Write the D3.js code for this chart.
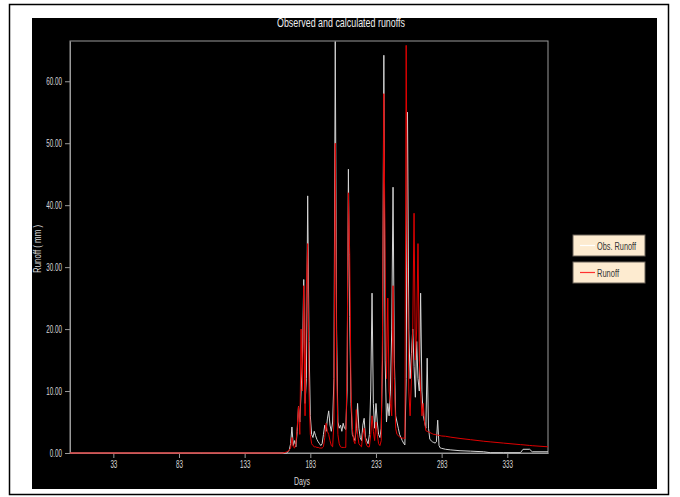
<!DOCTYPE html>
<html>
<head>
<style>
    body { margin: 0; background: #fff; }
    text { font-family: "Liberation Sans", Arial, sans-serif; }
    .axis path, .axis line { stroke: #9a9a9a; }
    .axis text { fill: #d8d8d8; font-size: 10.5px; transform-box: fill-box; transform: scaleX(0.6); }
    .y-axis text { transform-origin: right center; }
    .x-axis text { transform-origin: center center; }
</style>
</head>
<body>
<svg id="chart" width="680" height="497"></svg>
<script src="https://d3js.org/d3.v7.min.js"></script>
<script>
    // sample days: flat start, daily block 165..283, sparse recession tail
    const days = [0, 100, 160, 162, 164].concat(d3.range(165, 284),
        [286, 290, 297, 305, 315, 320, 330, 343, 345, 350, 352, 364]);

    const obsRunoff = [0, 0, 0, 0, 0,
        0, 0.2, 0.5, 1.5, 4.2, 1.2, 2.0, 1.0, 3.5, 7.5,
        5, 10, 15, 28, 8, 12, 41.5, 18, 6, 3,
        2.5, 3.5, 2.8, 2.2, 1.8, 1.5, 1.2, 1.5, 3.0, 4.5,
        3.5, 5.5, 6.8, 4.5, 3.5, 5, 12, 66.4, 20, 5,
        4, 4.5, 3.5, 4.8, 4, 3.8, 10, 45.8, 22, 8,
        3, 2.5, 2, 4, 8, 4, 2.5, 2, 4.5, 5.6,
        2.5, 2, 1.5, 3, 10, 25.8, 8, 4, 8, 5,
        3, 2.5, 4, 15, 64.2, 15, 5, 8, 6, 10,
        20, 42.9, 15, 6, 5, 4, 3, 2.5, 2, 1.6,
        1.3, 12, 55, 20, 12, 16, 20, 14, 9, 18,
        12, 10, 25.8, 10, 6, 5, 4, 15.3, 4, 2.2,
        2, 1.8, 1.7, 1.6, 1.8, 5.3, 1.2, 0.8, 0.75,
        0.6, 0.5, 0.37, 0.3, 0.2, 0.05, 0.05, 0.05, 0.6, 0.6, 0.2, 0.2];

    const calcRunoff = [0, 0, 0, 0, 0.1,
        0.2, 0.3, 0.5, 0.8, 2.5, 1.0, 0.8, 1.5, 4, 7.5,
        3, 20, 10, 27, 6, 26.8, 33.8, 10, 3, 1.5,
        1.2, 1.0, 1.0, 0.9, 0.9, 0.8, 0.8, 0.8, 1.0, 2.5,
        4.8, 3.5, 3, 2, 1.2, 1.0, 5, 50, 15, 3,
        1.5, 1.0, 0.9, 0.9, 0.9, 0.9, 15, 42, 32, 10,
        4, 2, 1.5, 7, 3, 1.5, 1.2, 1.0, 3, 4,
        2, 1.2, 1, 1, 3, 6, 3.5, 2, 5, 3,
        1.5, 1.2, 2, 20, 58, 30, 12, 25, 10, 8,
        6, 27, 12, 4, 3, 2.8, 2.6, 2.5, 2.4, 2.4,
        2.3, 65.8, 30, 10, 6, 12, 20, 38.7, 15, 20,
        33.8, 15, 10, 6, 8, 5, 3.6, 3.5, 3.4, 3.3,
        3.2, 3.1, 3.0, 3.0, 2.9, 2.9, 2.85, 2.8, 2.75,
        2.7, 2.55, 2.35, 2.15, 1.9, 1.8, 1.6, 1.35, 1.32, 1.22, 1.18, 1.0];

    const xTicks = [33, 83, 133, 183, 233, 283, 333];
    const yTicks = [0, 10, 20, 30, 40, 50, 60];
    const legendItems = [
        { label: "Obs. Runoff", color: "#ffffff", len: 39 },
        { label: "Runoff", color: "#ff3030", len: 22 }
    ];

    let svg = d3.select("#chart");
    // outer frame and black panel
    svg.append("rect").attr("x", 9.5).attr("y", 4.5).attr("width", 659).attr("height", 490)
        .attr("fill", "#fff").attr("stroke", "#000").attr("stroke-width", 1.5);
    svg.append("rect").attr("x", 32).attr("y", 18).attr("width", 625).attr("height", 471)
        .attr("fill", "#000");

    let plotLeft = 70, plotRight = 548, plotTop = 41, plotBottom = 453;
    let xScale = d3.scaleLinear().domain([0, 364]).range([plotLeft, plotRight]);
    let yScale = d3.scaleLinear().domain([0, 66.5]).range([plotBottom, plotTop]);

    svg.append("rect").attr("x", plotLeft).attr("y", plotTop)
        .attr("width", plotRight - plotLeft).attr("height", plotBottom - plotTop)
        .attr("fill", "none").attr("stroke", "#9a9a9a");

    svg.append("g").attr("class", "axis x-axis")
        .attr("transform", "translate(0," + plotBottom + ")")
        .call(d3.axisBottom(xScale).tickValues(xTicks).tickSize(5).tickSizeOuter(0).tickPadding(3));
    svg.append("g").attr("class", "axis y-axis")
        .attr("transform", "translate(" + plotLeft + ",0)")
        .call(d3.axisLeft(yScale).tickValues(yTicks).tickFormat(d3.format(".2f")).tickSize(5).tickSizeOuter(0).tickPadding(3));

    // series, calculated drawn over observed
    let seriesLine = d3.line().x((d, i) => xScale(days[i])).y((d) => yScale(d));
    svg.append("path").datum(obsRunoff).attr("d", seriesLine)
        .attr("fill", "none").attr("stroke", "#d4d4d4").attr("stroke-width", 1);
    svg.append("path").datum(calcRunoff).attr("d", seriesLine)
        .attr("fill", "none").attr("stroke", "#e00000").attr("stroke-width", 1);

    // titles (narrow font squeezed to the reference widths)
    svg.append("text").attr("x", 341).attr("y", 27).attr("text-anchor", "middle")
        .attr("fill", "#eee").attr("font-size", 13)
        .attr("textLength", 128).attr("lengthAdjust", "spacingAndGlyphs")
        .text("Observed and calculated runoffs");
    svg.append("text").attr("x", 302).attr("y", 485).attr("text-anchor", "middle")
        .attr("fill", "#d8d8d8").attr("font-size", 11)
        .attr("textLength", 16).attr("lengthAdjust", "spacingAndGlyphs")
        .text("Days");
    svg.append("text").attr("transform", "translate(41,249) rotate(-90)").attr("text-anchor", "middle")
        .attr("fill", "#d8d8d8").attr("font-size", 11)
        .attr("textLength", 48).attr("lengthAdjust", "spacingAndGlyphs")
        .text("Runoff ( mm )");

    // legend
    let lg = svg.selectAll(".legend").data(legendItems).enter().append("g")
        .attr("transform", (d, i) => "translate(573," + (235 + i * 27) + ")");
    lg.append("rect").attr("width", 72).attr("height", 21)
        .attr("fill", "#fdebd0").attr("stroke", "#6b6258");
    lg.append("line").attr("x1", 7).attr("x2", 22).attr("y1", 10.5).attr("y2", 10.5)
        .attr("stroke", (d) => d.color).attr("stroke-width", 1.2);
    lg.append("text").attr("x", 24).attr("y", 14.5).attr("fill", "#333").attr("font-size", 11)
        .attr("textLength", (d) => d.len).attr("lengthAdjust", "spacingAndGlyphs")
        .text((d) => d.label);
</script>
</body>
</html>
